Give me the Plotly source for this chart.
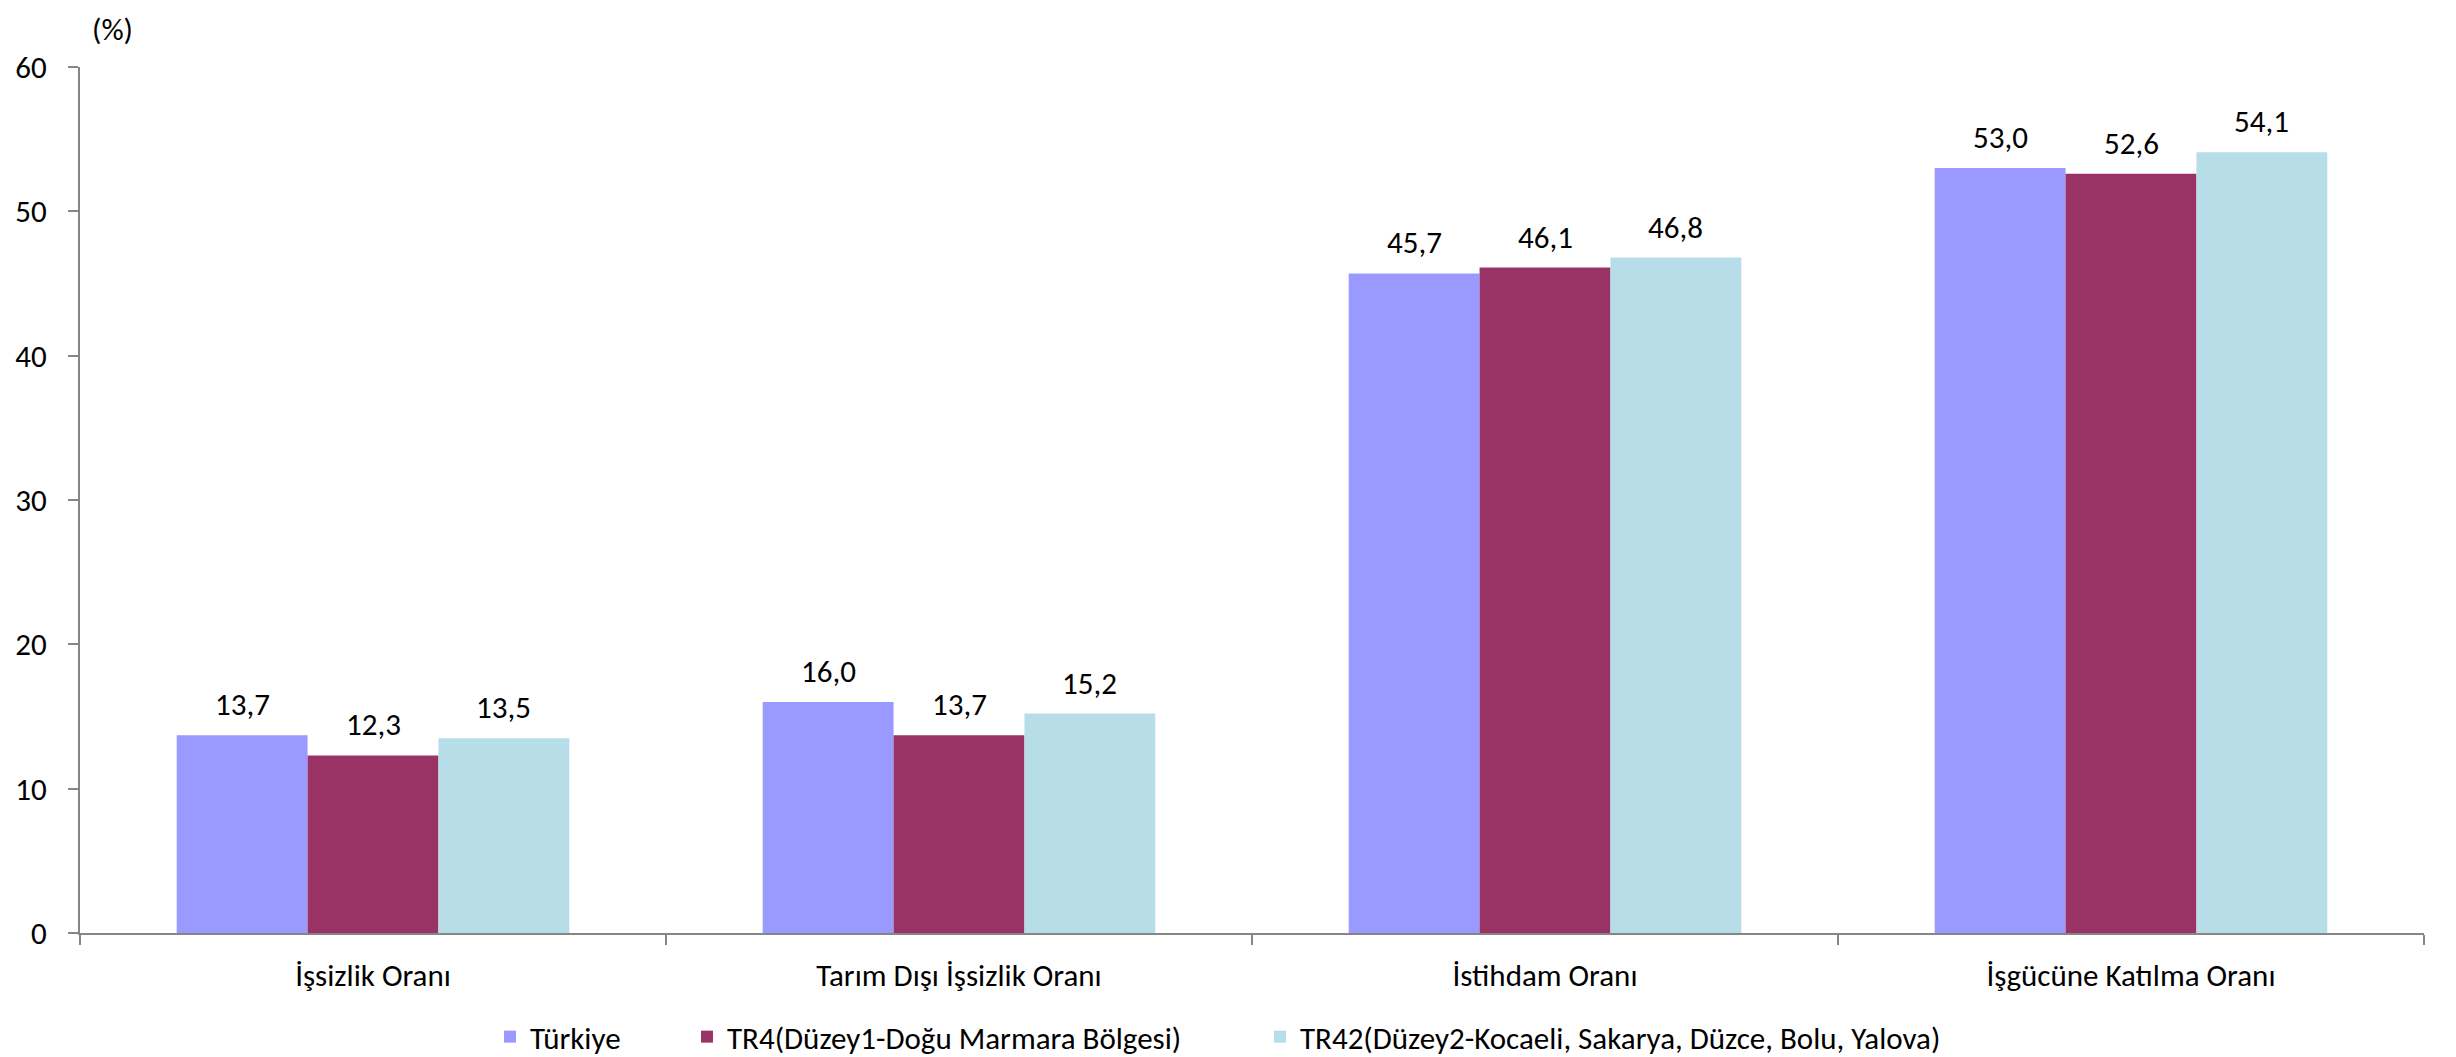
import plotly.graph_objects as go

categories = ["İşsizlik Oranı", "Tarım Dışı İşsizlik Oranı", "İstihdam Oranı", "İşgücüne Katılma Oranı"]
series_names = ["Türkiye", "TR4(Düzey1-Doğu Marmara Bölgesi)", "TR42(Düzey2-Kocaeli, Sakarya, Düzce, Bolu, Yalova)"]
turkiye = [13.7, 16.0, 45.7, 53.0]
tr4 = [12.3, 13.7, 46.1, 52.6]
tr42 = [13.5, 15.2, 46.8, 54.1]
y_ticks = [0, 10, 20, 30, 40, 50, 60]

colors = ["#9999FF", "#993366", "#B7DEE8"]
FONT = "Carlito, Calibri, Lato, sans-serif"
FS = 31

OFF = 8  # page body margin
W, H = 2456 - OFF, 1057 - OFF
L, T = 80 - OFF, 67 - OFF
R = W - (2424 - OFF)
B = H - (933 - OFF)
pw = W - L - R
ph = H - T - B
BARGAP = 0.33

def fmt(v):
    return f"{v:.1f}".replace(".", ",")

fig = go.Figure()
legend_ids = ["legend", "legend2", "legend3"]
bar_w = pw / len(categories) * (1 - BARGAP) / 3
annotations = []
for i, (name, vals, col, lg) in enumerate(zip(series_names, [turkiye, tr4, tr42], colors, legend_ids)):
    fig.add_trace(go.Bar(
        x=categories, y=vals, name=name,
        marker=dict(color=col, line=dict(width=0)),
        legend=lg,
    ))
    for c, v in zip(categories, vals):
        annotations.append(dict(
            x=c, y=v, xref="x", yref="y", text=fmt(v), showarrow=False,
            xanchor="center", yanchor="bottom", xshift=(i - 1) * bar_w, yshift=10,
            font=dict(size=FS, color="black", family=FONT),
        ))

annotations.append(dict(text="(%)", x=(112 - OFF - L) / pw, y=1 + (T - (29 - OFF)) / ph,
                        xref="paper", yref="paper", xanchor="center", yanchor="middle",
                        borderpad=0,
                        showarrow=False, font=dict(size=FS, family=FONT, color="black")))

marker_left = [506, 703, 1276]
legs = {}
for lg, ml in zip(legend_ids, marker_left):
    legs[lg] = dict(orientation="h", xref="container", yref="container",
                    x=(ml - OFF - 16) / W, xanchor="left", y=1 - (1037 - OFF) / H, yanchor="middle",
                    font=dict(size=FS, color="black", family=FONT),
                    bgcolor="rgba(0,0,0,0)", itemwidth=30)

fig.update_layout(
    width=W, height=H,
    margin=dict(l=L, r=R, t=T, b=B, autoexpand=False),
    paper_bgcolor="white", plot_bgcolor="white",
    barmode="group", bargap=BARGAP, bargroupgap=0,
    font=dict(family=FONT, size=FS, color="black"),
    showlegend=True,
    annotations=annotations,
    **legs,
)

fig.update_xaxes(
    showline=True, linecolor="#868686", linewidth=2,
    ticks="outside", ticklen=10, tickcolor="#868686", tickwidth=2,
    tickson="boundaries", showgrid=False, automargin=False,
    tickfont=dict(size=FS, family=FONT, color="black"),
    ticklabelstandoff=14,
)
fig.update_yaxes(
    range=[0, 60], tickvals=y_ticks, ticktext=[str(v) for v in y_ticks],
    showline=True, linecolor="#868686", linewidth=2,
    ticks="outside", ticklen=10, tickcolor="#868686", tickwidth=2,
    showgrid=False, zeroline=False, automargin=False,
    tickfont=dict(size=FS, family=FONT, color="black"),
    ticklabelstandoff=15,
)

fig.write_html("out.html")
